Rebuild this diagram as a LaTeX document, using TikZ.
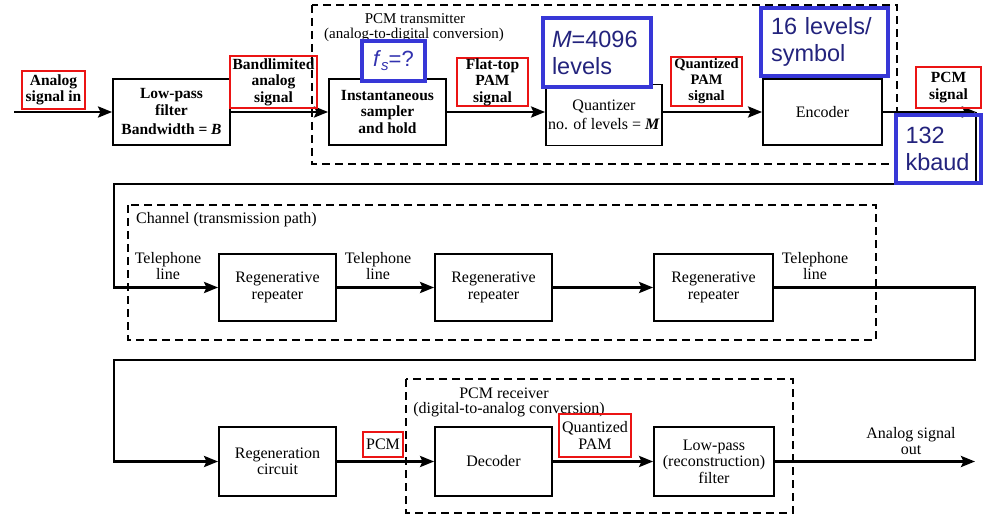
\documentclass[tikz,border=0pt]{standalone}
\usepackage{fontspec}
\setmainfont{Liberation Serif}
\setsansfont{Liberation Sans}
\usetikzlibrary{arrows.meta}
\definecolor{annred}{RGB}{235,20,20}
\definecolor{annblue}{RGB}{55,55,215}
\definecolor{anntext}{RGB}{35,35,125}
\definecolor{fstext}{RGB}{50,50,175}
\begin{document}
\begin{tikzpicture}[x=1pt,y=-1pt,
  font=\fontsize{16}{16.5}\selectfont,
  blk/.style={draw,line width=1.8pt,inner sep=0pt,align=center},
  sig/.style={line width=2.8pt},
  tip/.style={-{Stealth[length=14pt,width=11pt,inset=2.5pt]}},
  arr/.style={sig,tip},
  grp/.style={draw,line width=1.5pt,dash pattern=on 8pt off 5pt},
  redlab/.style={draw=annred,line width=2.8pt,inner sep=0pt,align=center},
  bluebox/.style={draw=annblue,line width=4pt,inner sep=0pt},
  bluetxt/.style={text=anntext,font=\sffamily\fontsize{23.5}{27}\selectfont,align=left},
  bld/.style={font=\bfseries\fontsize{15.5}{16.5}\selectfont},
  ttl/.style={font=\fontsize{15}{15}\selectfont},
  lbl/.style={align=center,inner sep=0pt}]
\useasboundingbox (0,0) rectangle (993,516);

% group frames
\draw[grp] (312,5) rectangle (897,164);
\draw[grp] (128,205) rectangle (876,340);
\draw[grp] (406,379) rectangle (793,513);

\node[lbl,ttl] (txt1) at (415,18.5) {PCM transmitter};
\node[lbl,ttl] (txt2) at (414,35) {(analog-to-digital conversion)};
\node[lbl,anchor=west] (chtxt) at (136,220) {Channel (transmission path)};
\node[lbl] (rxt1) at (504,393) {PCM receiver};
\node[lbl] (rxt2) at (509,410) {(digital-to-analog conversion)};

% row 1 blocks
\node[blk,bld,minimum width=117pt,minimum height=66pt] (lpf) at (171.5,112)
  {Low-pass\\filter\\[3pt]Bandwidth = \textit{B}};
\node[blk,bld,minimum width=117pt,minimum height=66pt] (samp) at (387.5,112)
  {Instantaneous\\sampler\\and hold};
\node[blk,minimum width=116pt,minimum height=61pt] (quant) at (604,115)
  {Quantizer\\[2pt]no. of levels = \textit{\textbf{M}}};
\node[blk,minimum width=119pt,minimum height=66pt] (enc) at (822.5,112) {Encoder};

% row 2 blocks
\node[blk,minimum width=117pt,minimum height=67pt] (rep1) at (277.5,287.5) {Regenerative\\repeater};
\node[blk,minimum width=117pt,minimum height=67pt] (rep2) at (493.5,287.5) {Regenerative\\repeater};
\node[blk,minimum width=119pt,minimum height=67pt] (rep3) at (713.5,287.5) {Regenerative\\repeater};

% row 3 blocks
\node[blk,minimum width=117pt,minimum height=69pt] (regc) at (277.5,461.5) {Regeneration\\circuit};
\node[blk,minimum width=117pt,minimum height=69pt] (dec) at (493.5,461.5) {Decoder};
\node[blk,minimum width=120pt,minimum height=69pt] (lpr) at (714,461.5) {Low-pass\\(reconstruction)\\filter};

% coordinates
\coordinate (in) at (14,112);
\coordinate (c1) at (976,112);
\coordinate (c2) at (976,184);
\coordinate (c3) at (114,184);
\coordinate (d2) at (975,360);
\coordinate (d3) at (114,360);
\coordinate (out) at (975,461.5);

% connectors
\draw[arr] (in) -- (lpf.west);
\draw[arr] (lpf.east) -- (samp.west);
\draw[arr] (samp.east) -- (quant.west |- samp.east);
\draw[arr] (quant.east |- enc.west) -- (enc.west);
\draw[arr] (enc.east) -- (c1);
\draw[arr] (c1) -- (c2) -- (c3) |- (rep1.west);
\draw[arr] (rep1.east) -- (rep2.west);
\draw[arr] (rep2.east) -- (rep3.west);
\draw[arr] (rep3.east) -| (d2) -- (d3) |- (regc.west);
\draw[arr] (regc.east) -- (dec.west);
\draw[arr] (dec.east) -- (lpr.west);
\draw[arr] (lpr.east) -- (out);

% plain labels
\node[lbl] (tl1) at (168,266) {Telephone\\line};
\node[lbl] (tl2) at (378,266) {Telephone\\line};
\node[lbl] (tl3) at (815,266) {Telephone\\line};
\node[lbl] (aout) at (911,441) {Analog signal\\out};

% red annotation labels
\node[redlab,bld,minimum width=63pt,minimum height=38pt] (lin) at (53.5,90) {Analog\\signal in};
\node[redlab,bld,minimum width=87pt,minimum height=52pt] (lband) at (273.5,82) {Bandlimited\\analog\\signal};
\node[redlab,bld,minimum width=71pt,minimum height=48pt] (lflat) at (492.5,82) {Flat-top\\PAM\\signal};
\node[redlab,font=\bfseries\fontsize{14.5}{16}\selectfont,minimum width=71pt,minimum height=49pt] (lqpam) at (706.5,81.5) {Quantized\\PAM\\signal};
\node[redlab,bld,minimum width=65pt,minimum height=41pt] (lpcm) at (948.5,87.5) {PCM\\signal};
\node[redlab,minimum width=40pt,minimum height=25pt] (lpcm2) at (383,444.5) {PCM};
\node[redlab,minimum width=72pt,minimum height=43pt] (lqpam2) at (595,435.5) {Quantized\\PAM};

% blue annotation boxes
\node[bluebox,fill=white,minimum width=63pt,minimum height=40pt,text=fstext,
  font=\sffamily\fontsize{22}{24}\selectfont] (fs) at (393.5,61)
  {\textit{f}\raisebox{-0.35ex}{\fontsize{15}{15}\selectfont\textit{s}}=?};
\node[bluebox,fill=white,minimum width=108pt,minimum height=69pt,text width=90pt,bluetxt] (mlev) at (597,52.5)
  {\textit{M}=4096\\levels};
\node[bluebox,fill=white,minimum width=127pt,minimum height=68pt,text width=107pt,bluetxt] (sym) at (824.5,42)
  {16 levels/\\symbol};
\node[bluebox,minimum width=85pt,minimum height=68pt,text width=66pt,bluetxt] (baud) at (938.5,149)
  {132\\kbaud};
\end{tikzpicture}
\end{document}
